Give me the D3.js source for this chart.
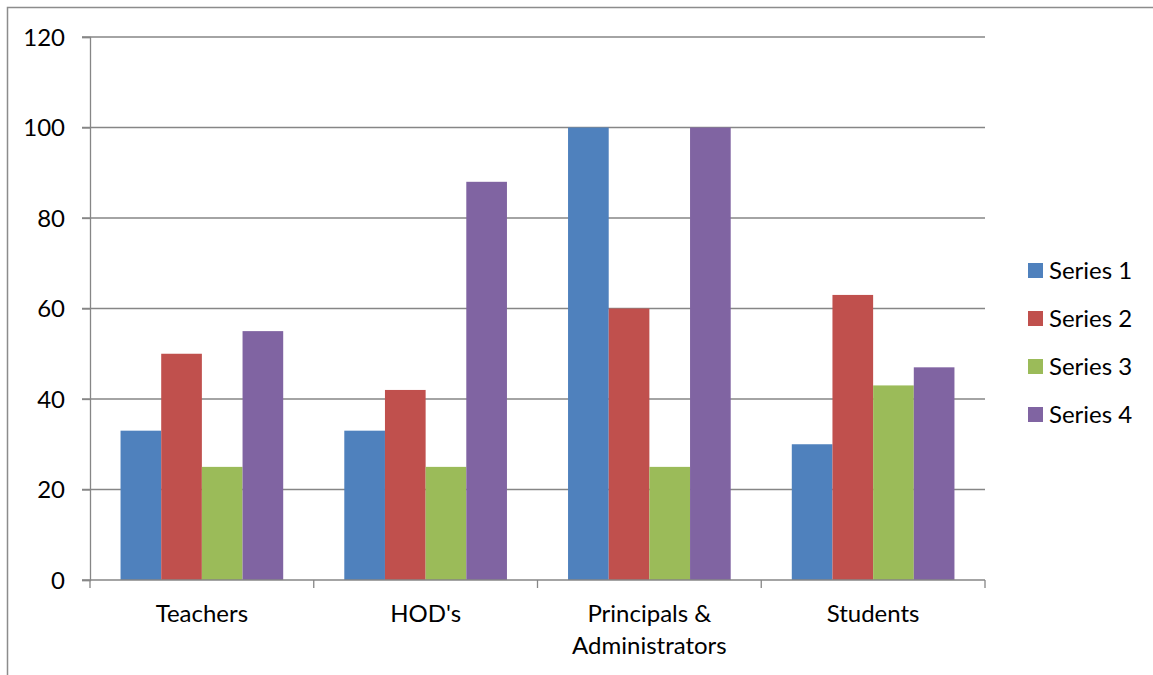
<!DOCTYPE html>
<html lang="en">
<head>
<meta charset="utf-8">
<script src="https://d3js.org/d3.v7.min.js"></script>
<style>
  body { margin: 0; background: #fff; }
  text { font-family: Lato, "Open Sans", sans-serif; fill: #000; }
</style>
</head>
<body>
<script>
// data
var categories = ["Teachers", "HOD's", "Principals & Administrators", "Students"];
var seriesNames = ["Series 1", "Series 2", "Series 3", "Series 4"];
var series1 = [33, 33, 100, 30];
var series2 = [50, 42, 60, 63];
var series3 = [25, 25, 25, 43];
var series4 = [55, 88, 100, 47];
var yTicks = [0, 20, 40, 60, 80, 100, 120];
var colors = ["#4F81BD", "#C0504D", "#9BBB59", "#8064A2"];

var allSeries = [series1, series2, series3, series4];
var width = 1153, height = 675;
var plot = {left: 90, right: 985, top: 37, bottom: 580};
var fs = "24px";

var svg = d3.select("body").append("svg").attr("width", width).attr("height", height);

// outer frame (only top and left visible)
svg.append("rect").attr("x", 7.5).attr("y", 7.5).attr("width", 1200).attr("height", 700)
  .attr("fill", "none").attr("stroke", "#8c8c8c").attr("stroke-width", 1.5);

var y = d3.scaleLinear().domain([0, 120]).range([plot.bottom, plot.top]);
var x0 = d3.scaleBand().domain(categories).range([plot.left, plot.right]).padding(0);
var gap = x0.bandwidth() * 0.1365;
var x1 = d3.scaleBand().domain(d3.range(4)).range([gap, x0.bandwidth() - gap]).padding(0);

// gridlines
svg.append("g").selectAll("line").data(yTicks.filter(function(d) { return d > 0; })).enter().append("line")
  .attr("x1", plot.left - 8).attr("x2", plot.right)
  .attr("y1", function(d) { return y(d); }).attr("y2", function(d) { return y(d); })
  .attr("stroke", "#868686").attr("stroke-width", 1.3);

// bars
var groups = svg.append("g").selectAll("g").data(categories).enter().append("g")
  .attr("transform", function(d) { return "translate(" + x0(d) + ",0)"; });
groups.selectAll("rect").data(function(d, ci) {
  return allSeries.map(function(s, si) { return {si: si, v: s[ci]}; });
}).enter().append("rect")
  .attr("x", function(d) { return x1(d.si); })
  .attr("width", x1.bandwidth())
  .attr("y", function(d) { return y(d.v); })
  .attr("height", function(d) { return y(0) - y(d.v); })
  .attr("fill", function(d) { return colors[d.si]; });

// y axis
var yAxis = d3.axisLeft(y).tickValues(yTicks).tickSize(8).tickPadding(17);
var gy = svg.append("g").attr("transform", "translate(" + plot.left + ",0)").call(yAxis);
gy.select(".domain").attr("stroke", "#868686").attr("stroke-width", 1.3);
gy.selectAll(".tick line").attr("stroke", "#868686").attr("stroke-width", 1.3);
gy.selectAll(".tick text").style("font-size", fs).style("font-family", "Lato, sans-serif").attr("dy", "0.35em");

// x axis
var gx = svg.append("g").attr("transform", "translate(0," + plot.bottom + ")");
gx.append("line").attr("x1", plot.left - 8).attr("x2", plot.right).attr("y1", 0).attr("y2", 0)
  .attr("stroke", "#868686").attr("stroke-width", 1.3);
var bounds = categories.map(function(c) { return x0(c); }).concat([plot.right]);
gx.selectAll("line.tk").data(bounds).enter().append("line").attr("class", "tk")
  .attr("x1", function(d) { return d; }).attr("x2", function(d) { return d; })
  .attr("y1", 0).attr("y2", 8).attr("stroke", "#868686").attr("stroke-width", 1.3);

var labelLines = {"Principals & Administrators": ["Principals &", "Administrators"]};
categories.forEach(function(c) {
  var lines = labelLines[c] || [c];
  var t = gx.append("text").attr("text-anchor", "middle").style("font-size", fs)
    .attr("x", x0(c) + x0.bandwidth() / 2).attr("y", 42);
  lines.forEach(function(l, i) {
    t.append("tspan").attr("x", x0(c) + x0.bandwidth() / 2).attr("dy", i === 0 ? 0 : 32).text(l);
  });
});

// legend
var legend = svg.append("g").attr("transform", "translate(1028,263)");
var items = legend.selectAll("g").data(seriesNames).enter().append("g")
  .attr("transform", function(d, i) { return "translate(0," + (i * 48) + ")"; });
items.append("rect").attr("width", 15).attr("height", 15).attr("fill", function(d, i) { return colors[i]; });
items.append("text").attr("x", 21).attr("y", 8).attr("dy", "0.35em").style("font-size", fs).text(function(d) { return d; });
</script>
</body>
</html>
